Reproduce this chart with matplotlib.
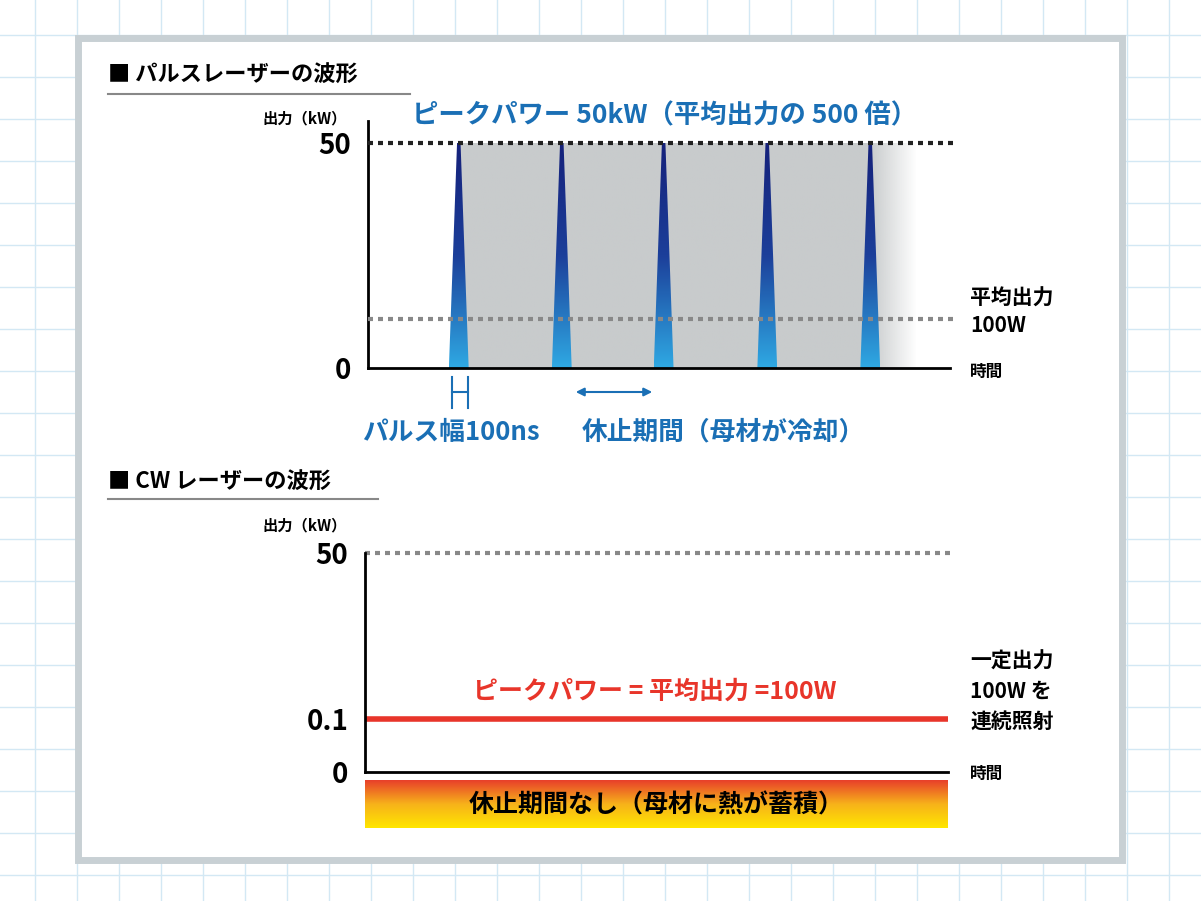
import numpy as np
import matplotlib.pyplot as plt
from matplotlib.patches import Polygon, Rectangle
from matplotlib.colors import LinearSegmentedColormap

plt.rcParams['font.family'] = ['Noto Sans CJK JP', 'DejaVu Sans']
plt.rcParams['font.weight'] = 'bold'

# data
pulse_times = [1.56, 3.33, 5.08, 6.86, 8.63]  # pulse centres (arbitrary time units)
pulse_half = 0.17                             # half width at base
peak_kw = 50
avg_level = 11      # drawn position of 100W average line
cw_level = 12       # drawn position of the 0.1 kW line
top_ticks = [0, 50]
cw_ticks = [0, 12, 50]
cw_tick_labels = ['0', '0.1', '50']

W, H = 1201, 901
fig = plt.figure(figsize=(W / 100, H / 100), dpi=100)
bg = fig.add_axes([0, 0, 1, 1])
bg.set_xlim(0, W)
bg.set_ylim(H, 0)
bg.axis('off')

# grid paper background
for g in np.arange(35, W, 42):
    bg.axvline(g, color='#d3e8f4', lw=1, zorder=0)
for g in np.arange(35, H, 42):
    bg.axhline(g, color='#d3e8f4', lw=1, zorder=0)
bg.add_patch(Rectangle((78, 38), 1044, 822, fc='white', ec='#c8d0d4', lw=5, zorder=1))

blue = '#1a6fb5'
red = '#e8352a'


def fx(px):
    return px / W


def fy(py):
    return 1 - py / H


# ---- top chart ----
ax1 = fig.add_axes([fx(368), fy(368), fx(950 - 368), fy(143) - fy(368)])
ax1.set_xlim(0, 10)
ax1.set_ylim(0, peak_kw)
ax1.patch.set_alpha(0)
for s in ['top', 'right']:
    ax1.spines[s].set_visible(False)
for s in ['left', 'bottom']:
    ax1.spines[s].set_linewidth(2)
ax1.spines['left'].set_bounds(0, 55)
ax1.set_xticks([])
ax1.set_yticks(top_ticks)
ax1.tick_params(length=0, labelsize=20, pad=12)

# grey band with fade
grey = np.ones((2, 200, 4))
grey[..., :3] = np.array([200, 203, 204]) / 255
xs = np.linspace(pulse_times[0], pulse_times[-1] + 0.8, 200)
alpha = np.clip((pulse_times[-1] + 0.8 - xs) / 0.8, 0, 1)
grey[..., 3] = alpha
ax1.imshow(grey, extent=[xs[0], xs[-1], 0, peak_kw], aspect='auto', zorder=1)

cmap = LinearSegmentedColormap.from_list('p', ['#2fa9e3', '#1c3f9a', '#15217a'])
grad = np.linspace(0, 1, 256).reshape(-1, 1)
for t in pulse_times:
    poly = Polygon([(t - pulse_half, 0), (t + pulse_half, 0), (t + 0.03, peak_kw), (t - 0.03, peak_kw)],
                   closed=True, fc='none', ec='none')
    ax1.add_patch(poly)
    im = ax1.imshow(grad, extent=[t - pulse_half, t + pulse_half, 0, peak_kw], origin='lower',
                    cmap=cmap, aspect='auto', zorder=2)
    im.set_clip_path(poly)
ax1.set_xlim(0, 10)
ax1.set_ylim(0, peak_kw)
ax1.plot([0, 10.1], [peak_kw, peak_kw], ls=(0, (1.2, 1.2)), color='#222222', lw=3, clip_on=False, zorder=3)
ax1.plot([0, 10.1], [avg_level, avg_level], ls=(0, (1.2, 1.2)), color='#888888', lw=3, clip_on=False, zorder=3)

# ---- bottom chart ----
ax2 = fig.add_axes([fx(365), fy(772), fx(948 - 365), fy(553) - fy(772)])
ax2.set_xlim(0, 10)
ax2.set_ylim(0, peak_kw)
ax2.patch.set_alpha(0)
for s in ['top', 'right']:
    ax2.spines[s].set_visible(False)
for s in ['left', 'bottom']:
    ax2.spines[s].set_linewidth(2)
ax2.set_xticks([])
ax2.set_yticks(cw_ticks)
ax2.set_yticklabels(cw_tick_labels)
ax2.tick_params(length=0, labelsize=20, pad=12)
ax2.plot([0, 10.1], [peak_kw, peak_kw], ls=(0, (1.2, 1.2)), color='#888888', lw=3, clip_on=False)
ax2.plot([0, 10], [cw_level, cw_level], color=red, lw=4)

heat = LinearSegmentedColormap.from_list('h', ['#ffe600', '#f7b21a', '#e8402a'])
bg.imshow(np.linspace(0, 1, 100).reshape(-1, 1), extent=[365, 948, 828, 780], origin='lower',
          cmap=heat, aspect='auto', zorder=2)
bg.set_xlim(0, W)
bg.set_ylim(H, 0)

# ---- texts ----
bg.text(108, 75, '■ パルスレーザーの波形', fontsize=16, va='center', zorder=3)
bg.plot([108, 410], [94, 94], color='#888888', lw=1.5, zorder=3)
bg.text(108, 482, '■ CW レーザーの波形', fontsize=16, va='center', zorder=3)
bg.plot([108, 378], [499, 499], color='#888888', lw=1.5, zorder=3)
bg.text(262, 118, '出力（kW）', fontsize=11, va='center', zorder=3)
bg.text(262, 525, '出力（kW）', fontsize=11, va='center', zorder=3)
bg.text(665, 116, 'ピークパワー 50kW（平均出力の 500 倍）', fontsize=19, color=blue, ha='center', va='center', zorder=3)
bg.text(970, 298, '平均出力', fontsize=15, va='center', zorder=3)
bg.text(970, 326, '100W', fontsize=15, va='center', zorder=3)
bg.text(970, 372, '時間', fontsize=12, va='center', zorder=3)
bg.text(970, 774, '時間', fontsize=12, va='center', zorder=3)
for i, s in enumerate(['一定出力', '100W を', '連続照射']):
    bg.text(970, 661 + i * 30, s, fontsize=15, va='center', zorder=3)
bg.text(655, 692, 'ピークパワー = 平均出力 =100W', fontsize=18, color=red, ha='center', va='center', zorder=3)
bg.text(656, 805, '休止期間なし（母材に熱が蓄積）', fontsize=18, ha='center', va='center', zorder=3)
bg.text(362, 432, 'パルス幅100ns', fontsize=18.5, color=blue, va='center', zorder=3)
bg.text(582, 432, '休止期間（母材が冷却）', fontsize=18.5, color=blue, va='center', zorder=3)

# pulse width marker and rest arrow
bg.plot([452, 452], [377, 408], color=blue, lw=1.5, zorder=3)
bg.plot([468, 468], [377, 408], color=blue, lw=1.5, zorder=3)
bg.plot([452, 468], [392, 392], color=blue, lw=1.5, zorder=3)
bg.annotate('', xy=(573, 392), xytext=(655, 392),
            arrowprops=dict(arrowstyle='<|-|>', color=blue, lw=1.5, mutation_scale=12), zorder=3)

fig.savefig('out.png', dpi=100)
